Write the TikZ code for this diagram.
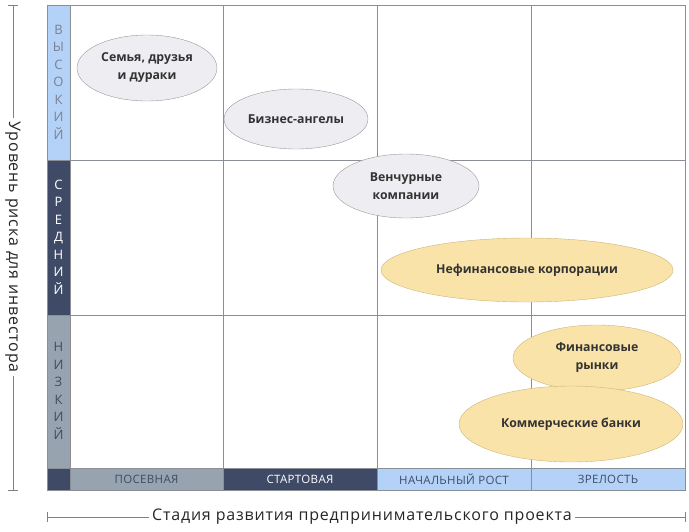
\documentclass[tikz,border=0pt]{standalone}
\usepackage{fontspec}
\setmainfont{Open Sans}
\usetikzlibrary{shapes.geometric}
\definecolor{lb}{HTML}{B4D2F7}
\definecolor{nv}{HTML}{3F4B66}
\definecolor{gr}{HTML}{97A3AE}
\definecolor{grid}{HTML}{8A8F96}
\definecolor{efill}{HTML}{EEEEF2}
\definecolor{yfill}{HTML}{F9E3A9}
\definecolor{ydraw}{HTML}{CDB57A}
\begin{document}
\begin{tikzpicture}[x=1pt,y=-1pt,
  gell/.style={ellipse,draw=gray!80,fill=efill,inner sep=0pt,font=\bfseries\fontsize{12.3}{18}\selectfont,text=black!80,align=center},
  yell/.style={ellipse,draw=ydraw,fill=yfill,inner sep=0pt,font=\bfseries\fontsize{12.3}{18}\selectfont,text=black!80,align=center},
  band/.style={font=\fontsize{11.5}{12}\selectfont\addfontfeature{LetterSpace=3}},
  vlab/.style={align=center,font=\fontsize{13}{17.5}\selectfont}]
\useasboundingbox (0,0) rectangle (689,531);
% strips
\fill[lb] (47,5) rectangle (70,160);
\fill[nv] (47,160) rectangle (70,315);
\fill[gr] (47,315) rectangle (70,468);
\fill[nv] (47,468) rectangle (70,490);
\fill[gr] (70,468) rectangle (223,490);
\fill[nv] (223,468) rectangle (377,490);
\fill[lb] (377,468) rectangle (685,490);
% grid
\draw[grid] (47,5) rectangle (685,490);
\foreach \x in {70,223,377,531} \draw[grid] (\x,5) -- (\x,490);
\foreach \y in {160,315,468} \draw[grid] (47,\y) -- (685,\y);
% strip labels
\node[vlab,text=nv!70] (hi) at (58.5,82) {В\\Ы\\С\\О\\К\\И\\Й};
\node[vlab,text=white] (mid) at (58.5,237) {С\\Р\\Е\\Д\\Н\\И\\Й};
\node[vlab,text=nv] (lo) at (58.5,391) {Н\\И\\З\\К\\И\\Й};
\node[band,text=nv] (b1) at (146.5,479) {ПОСЕВНАЯ};
\node[band,text=white] (b2) at (300,479) {СТАРТОВАЯ};
\node[band,text=nv] (b3) at (454,479) {НАЧАЛЬНЫЙ РОСТ};
\node[band,text=nv] (b4) at (608,479) {ЗРЕЛОСТЬ};
% ellipses
\node[gell,minimum width=140,minimum height=66] (e1) at (147,68) {Семья, друзья\\и дураки};
\node[gell,minimum width=144,minimum height=60] (e2) at (296,119) {Бизнес-ангелы};
\node[gell,minimum width=146,minimum height=64] (e3) at (406,186) {Венчурные\\компании};
\node[yell,minimum width=292,minimum height=64] (e4) at (527,270) {Нефинансовые корпорации};
\node[yell,minimum width=168,minimum height=66] (e5) at (597,358) {Финансовые\\рынки};
\node[yell,minimum width=224,minimum height=76] (e6) at (571,424) {Коммерческие банки};
% axes
\coordinate (vt) at (13,5); \coordinate (vb) at (13,490);
\node[rotate=-90,font=\fontsize{16}{18}\selectfont\addfontfeature{LetterSpace=5},text=black!85,inner sep=3pt] (vl) at (13,247) {Уровень риска для инвестора};
\draw[gray] (vt) -- (vl.west); \draw[gray] (vl.east) -- (vb);
\draw[gray] (8,5) -- (18,5); \draw[gray] (8,490) -- (18,490);
\coordinate (hl) at (47,517); \coordinate (hr) at (685,517);
\node[font=\fontsize{16}{18}\selectfont\addfontfeature{LetterSpace=5},text=black!85,inner sep=3pt] (hlab) at (362,517) {Стадия развития предпринимательского проекта};
\draw[gray] (hl) -- (hlab.west); \draw[gray] (hlab.east) -- (hr);
\draw[gray] (47,512) -- (47,522); \draw[gray] (685,512) -- (685,522);
\end{tikzpicture}
\end{document}
